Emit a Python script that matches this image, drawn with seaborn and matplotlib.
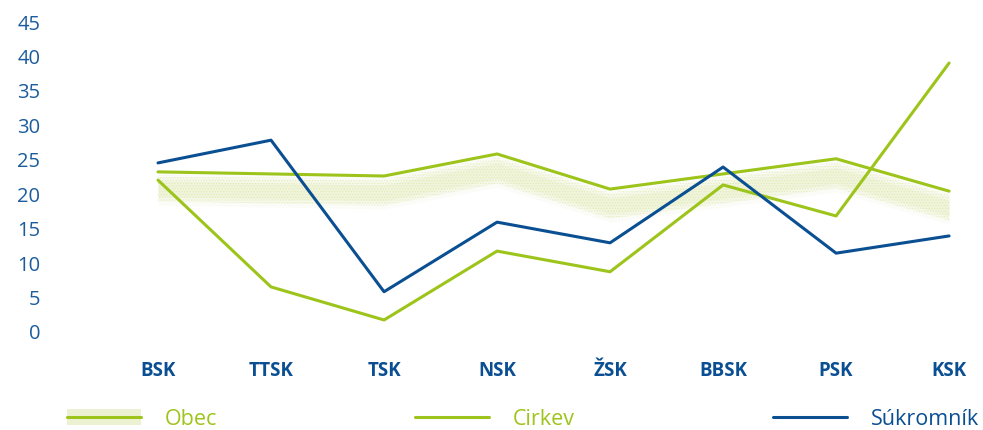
import numpy as np
import pandas as pd
import matplotlib
matplotlib.use("Agg")
import matplotlib.pyplot as plt
from matplotlib.lines import Line2D
from matplotlib.patches import Patch
import seaborn as sns

# kraje
regions = ["BSK", "TTSK", "TSK", "NSK", "ŽSK", "BBSK", "PSK", "KSK"]
obec = [23.1, 22.8, 22.5, 25.7, 20.6, 22.8, 25.0, 20.3]
cirkev = [21.9, 6.4, 1.6, 11.6, 8.6, 21.2, 16.7, 38.9]
sukromnik = [24.4, 27.7, 5.7, 15.8, 12.8, 23.8, 11.3, 13.8]
series_names = ["Obec", "Cirkev", "Súkromník"]
y_ticks = [0, 5, 10, 15, 20, 25, 30, 35, 40, 45]

green = "#9dc41a"
blue = "#0b4f93"
tick_blue = "#1c5c9c"
shadow = "#d6e49a"

df = pd.DataFrame({"kraj": regions * 3,
                   "hodnota": obec + cirkev + sukromnik,
                   "typ": [n for n in series_names for _ in regions]})

sns.set_style("white")
plt.rcParams["font.family"] = ["Open Sans", "DejaVu Sans"]
plt.rcParams["hatch.linewidth"] = 0.5

fig = plt.figure(figsize=(9.83, 4.31), dpi=100)
ax = fig.add_axes([45/983, 99/431, 938/983, 310/431])

# mäkký tieň pod čiarou Obec
xs = np.arange(len(regions))
ob = np.array(obec)
for lo, hi, a in [(0.2, 4.8, 0.08), (0.7, 4.2, 0.13), (1.3, 3.6, 0.18)]:
    ax.fill_between(xs, ob - hi, ob - lo, color=shadow, alpha=a, lw=0, zorder=1)
ax.fill_between(xs, ob - 4.3, ob - 0.5, facecolor="none", edgecolor=shadow,
                hatch="......", lw=0, alpha=0.55, zorder=1)

sns.lineplot(data=df, x="kraj", y="hodnota", hue="typ", sort=False,
             palette={"Obec": green, "Cirkev": green, "Súkromník": blue},
             linewidth=2.2, legend=False, ax=ax, zorder=3)

ax.set_xlim(-1.0, 7.3)
ax.set_ylim(0, 45)
ax.set_yticks(y_ticks)
ax.set_xlabel("")
ax.set_ylabel("")
sns.despine(ax=ax, left=True, bottom=True)
ax.tick_params(axis="y", length=0, pad=3.5, labelsize=14.5, labelcolor=tick_blue)
ax.tick_params(axis="x", length=0, pad=21, labelsize=13.5, labelcolor=blue)
for lab in ax.get_xticklabels():
    lab.set_fontweight("bold")
ax.grid(False)

handles = [(Patch(facecolor=shadow, alpha=0.45, lw=0), Line2D([], [], color=green, lw=2.2)),
           Line2D([], [], color=green, lw=2.2),
           Line2D([], [], color=blue, lw=2.2)]
leg = fig.legend(handles, series_names, loc="center left", bbox_to_anchor=(67/983, 1 - 420/431),
                 ncol=3, frameon=False, fontsize=15.5, handlelength=3.44,
                 handletextpad=1.1, columnspacing=9.2, borderpad=0, borderaxespad=0)
for txt, c in zip(leg.get_texts(), [green, green, blue]):
    txt.set_color(c)

fig.savefig("out.png", dpi=100)
